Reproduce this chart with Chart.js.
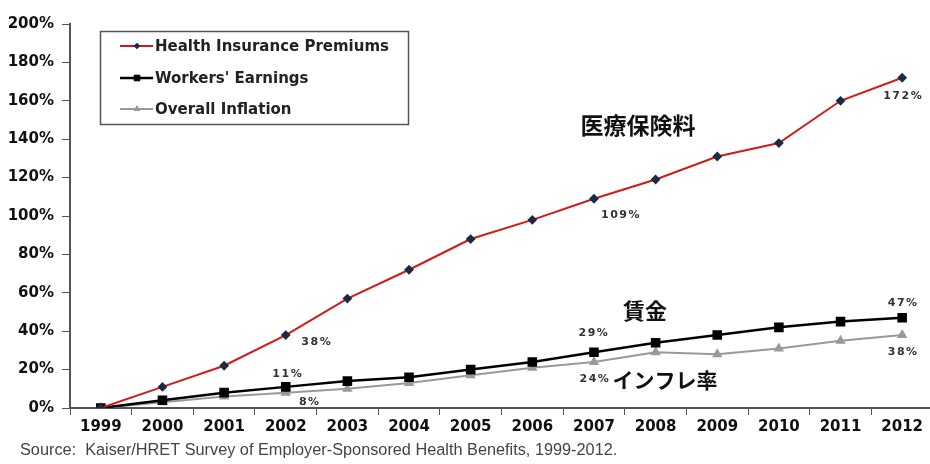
<!DOCTYPE html>
<html lang="ja">
<head>
  <meta charset="UTF-8">
  <title>Premiums vs Earnings vs Inflation</title>
  <script src="https://cdn.jsdelivr.net/npm/chart.js"></script>
  <style>
    html, body {
      margin: 0;
      padding: 0;
      background: #fff;
      overflow: hidden;
    }
    .wrap {
      width: 930px;
      height: 464px;
      overflow: hidden;
    }
  </style>
</head>
<body>

<div class="wrap">
  <canvas id="costChart" width="933" height="464"></canvas>
</div>

<script>
  // data (cumulative change since 1999)
  const years = ["1999", "2000", "2001", "2002", "2003", "2004", "2005",
                 "2006", "2007", "2008", "2009", "2010", "2011", "2012"];
  const premiums  = [0, 11, 22, 38, 57, 72, 88, 98, 109, 119, 131, 138, 160, 172];
  const earnings  = [0, 4, 8, 11, 14, 16, 20, 24, 29, 34, 38, 42, 45, 47];
  const inflation = [0, 3, 6, 8, 10, 13, 17, 21, 24, 29, 28, 31, 35, 38];
  const yTicks = [0, 20, 40, 60, 80, 100, 120, 140, 160, 180, 200];

  const seriesNames = ["Health Insurance Premiums", "Workers' Earnings", "Overall Inflation"];

  // value labels: [dataset, index, dx, dy]
  const valueLabels = [
    [0, 3, 30, 7], [0, 8, 26, 16], [0, 13, 0, 18],
    [1, 3, 1, -13], [1, 8, -1, -19], [1, 13, 0, -15],
    [2, 3, 23, 10], [2, 8, 0, 17], [2, 13, 0, 17]
  ];

  const overlay = {
    id: 'overlay',
    afterDraw(chart) {
      const ctx = chart.ctx;
      ctx.save();

      // value labels next to points
      ctx.font = 'bold 11px "DejaVu Sans"';
      ctx.letterSpacing = '1.5px';
      ctx.fillStyle = '#333';
      ctx.textAlign = 'center';
      ctx.textBaseline = 'middle';
      valueLabels.forEach(([ds, i, dx, dy]) => {
        const pt = chart.getDatasetMeta(ds).data[i];
        const v = chart.data.datasets[ds].data[i];
        ctx.fillText(v + '%', pt.x + dx + 1, pt.y + dy);
      });
      ctx.letterSpacing = '0px';

      // japanese notes
      ctx.fillStyle = '#111';
      ctx.font = 'bold 23px "Noto Sans CJK JP"';
      ctx.fillText('医療保険料', 638, 125);
      ctx.font = 'bold 22px "Noto Sans CJK JP"';
      ctx.fillText('賃金', 645, 311);
      ctx.font = 'bold 21px "Noto Sans CJK JP"';
      ctx.fillText('インフレ率', 665, 380);

      // legend box
      ctx.strokeStyle = '#555';
      ctx.lineWidth = 1.5;
      ctx.strokeRect(100.5, 31.5, 308, 93);
      const rows = [46, 78, 109];
      chart.data.datasets.forEach((ds, k) => {
        const y = rows[k];
        ctx.strokeStyle = ds.borderColor;
        ctx.lineWidth = ds.borderWidth;
        ctx.beginPath();
        ctx.moveTo(120, y);
        ctx.lineTo(153, y);
        ctx.stroke();
        ctx.fillStyle = ds.pointBackgroundColor;
        ctx.strokeStyle = ds.pointBackgroundColor;
        ctx.lineWidth = 1;
        Chart.helpers.drawPoint(ctx, {
          pointStyle: ds.pointStyle,
          radius: ds.pointRadius * 0.8,
          borderWidth: 1
        }, 137, y);
        ctx.fillStyle = '#222';
        ctx.textAlign = 'left';
        ctx.font = 'bold 15px "DejaVu Sans"';
        ctx.fillText(seriesNames[k], 155, y + 1);
      });

      // source line
      ctx.fillStyle = '#444';
      ctx.font = '16.3px "Liberation Sans"';
      ctx.textAlign = 'left';
      ctx.fillText('Source:  Kaiser/HRET Survey of Employer-Sponsored Health Benefits, 1999-2012.', 20, 451);

      ctx.restore();
    }
  };

  const ctx = document.getElementById('costChart').getContext('2d');

  new Chart(ctx, {
    type: 'line',
    data: {
      labels: years,
      datasets: [
        {
          label: seriesNames[0],
          data: premiums,
          borderColor: '#d11a1a',
          borderWidth: 2,
          pointStyle: 'rectRot',
          pointRadius: 3.5,
          pointBackgroundColor: '#1c2b45',
          pointBorderColor: '#1c2b45',
          tension: 0
        },
        {
          label: seriesNames[1],
          data: earnings,
          borderColor: '#000',
          borderWidth: 2.5,
          pointStyle: 'rect',
          pointRadius: 5,
          pointBackgroundColor: '#000',
          pointBorderColor: '#000',
          tension: 0
        },
        {
          label: seriesNames[2],
          data: inflation,
          borderColor: '#999',
          borderWidth: 2,
          pointStyle: 'triangle',
          pointRadius: 4,
          pointBackgroundColor: '#999',
          pointBorderColor: '#999',
          tension: 0
        }
      ]
    },
    options: {
      responsive: false,
      animation: false,
      layout: {
        autoPadding: false,
        padding: { top: 24, right: 0, bottom: 0, left: 0 }
      },
      plugins: {
        legend: { display: false },
        tooltip: { enabled: false }
      },
      scales: {
        x: {
          offset: true,
          grid: {
            offset: true,
            drawOnChartArea: false,
            drawTicks: true,
            tickLength: 7,
            color: '#555'
          },
          border: { color: '#555', width: 2 },
          ticks: {
            font: { family: 'DejaVu Sans', size: 15, weight: 'bold' },
            color: '#111',
            padding: 3,
            maxRotation: 0
          },
          afterFit(scale) {
            scale.height = 56;
            scale.paddingLeft = 0;
            scale.paddingRight = 0;
          }
        },
        y: {
          min: 0,
          max: 200,
          afterBuildTicks(scale) {
            scale.ticks = yTicks.map(v => ({ value: v }));
          },
          grid: {
            drawOnChartArea: false,
            drawTicks: true,
            tickLength: 8,
            color: '#555'
          },
          border: { color: '#555', width: 2 },
          ticks: {
            font: { family: 'DejaVu Sans', size: 15, weight: 'bold' },
            color: '#111',
            padding: 8,
            callback: v => v + '%'
          },
          afterFit(scale) { scale.width = 70; }
        }
      }
    },
    plugins: [overlay]
  });
</script>

</body>
</html>
